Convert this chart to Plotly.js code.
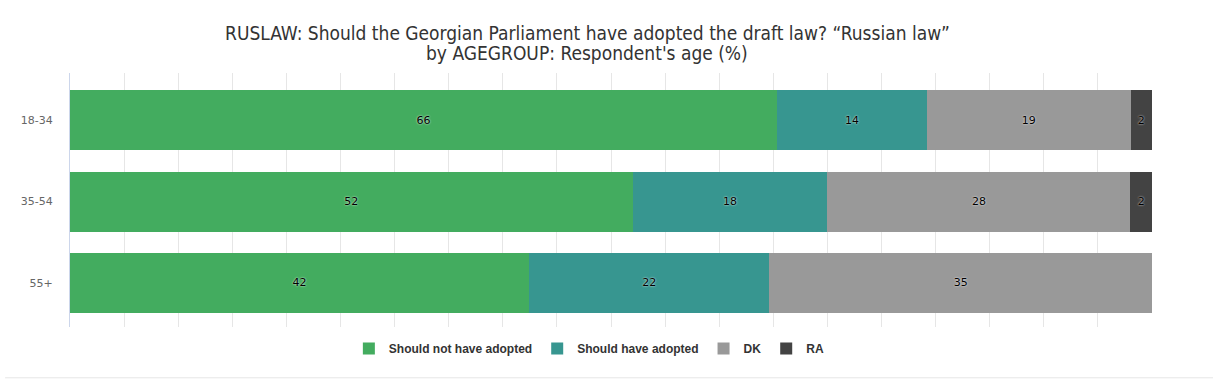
<!DOCTYPE html>
<html>
<head>
<meta charset="utf-8">
<script src="https://cdn.plot.ly/plotly-3.0.1.min.js"></script>
<style>
html,body{margin:0;padding:0;background:#fff;}
#chart{width:1213px;height:382px;}
</style>
</head>
<body>
<div id="chart"></div>
<script>
const categories = ["18-34", "35-54", "55+"];
const seriesNames = ["Should not have adopted", "Should have adopted", "DK", "RA"];
const shouldNot = [66, 52, 42];
const should = [14, 18, 22];
const dk = [19, 28, 35];
const ra = [2, 2, 0];
const colors = ["#43ac5f", "#379690", "#999999", "#434343"];
const titleLines = [
  "RUSLAW: Should the Georgian Parliament have adopted the draft law? “Russian law”",
  "by AGEGROUP: Respondent's age (%)"
];

const values = [shouldNot, should, dk, ra];
const traces = values.map((vals, i) => ({
  type: "bar",
  orientation: "h",
  name: seriesNames[i],
  y: categories,
  x: vals,
  text: vals.map(v => v > 0 ? String(v) : ""),
  textposition: "inside",
  insidetextanchor: "middle",
  textangle: 0,
  constraintext: "none",
  textfont: {family: "DejaVu Sans, sans-serif", size: 11, color: "#000", shadow: "0px 0px 2px #fff"},
  marker: {color: colors[i], line: {width: 0}},
  hoverinfo: "none"
}));

const titleFont = {family: "Liberation Sans Narrow, DejaVu Sans Condensed, sans-serif", size: 19, color: "#333"};

const layout = {
  width: 1213,
  height: 382,
  paper_bgcolor: "#fff",
  plot_bgcolor: "#fff",
  barmode: "stack",
  barnorm: "percent",
  bargap: 0.264,
  margin: {l: 70, r: 61, t: 73, b: 55},
  xaxis: {
    range: [0, 100],
    dtick: 5,
    showticklabels: false,
    showgrid: true,
    gridcolor: "#e6e6e6",
    zeroline: false,
    fixedrange: true
  },
  yaxis: {
    range: [2.54, -0.577],
    showline: true,
    linecolor: "#ccd6eb",
    linewidth: 1,
    ticks: "",
    ticklabelstandoff: 14,
    tickfont: {family: "DejaVu Sans, sans-serif", size: 11, color: "#666"},
    fixedrange: true
  },
  showlegend: true,
  legend: {
    orientation: "h",
    x: 0.48, xanchor: "center",
    y: -0.085, yanchor: "middle",
    itemwidth: 30,
    font: {family: "Liberation Sans, Arial, sans-serif", size: 12, color: "#333", weight: "bold"},
    traceorder: "normal",
    itemclick: false
  },
  annotations: [
    {text: titleLines[0], xref: "paper", yref: "paper", x: (587.5 - 70) / 1082, y: 1 + (327 - 33) / 254 - 1, yanchor: "middle", xanchor: "center", showarrow: false, font: titleFont},
    {text: titleLines[1], xref: "paper", yref: "paper", x: (586.5 - 70) / 1082, y: 1 + (327 - 53) / 254 - 1, yanchor: "middle", xanchor: "center", showarrow: false, font: titleFont}
  ],
  shapes: [{
    type: "line", xref: "paper", yref: "paper",
    x0: -0.06, x1: 1.06, y0: -0.2, y1: -0.2,
    line: {color: "#e6e6e6", width: 1}
  }]
};

Plotly.newPlot("chart", traces, layout, {displayModeBar: false, staticPlot: true});
</script>
</body>
</html>
